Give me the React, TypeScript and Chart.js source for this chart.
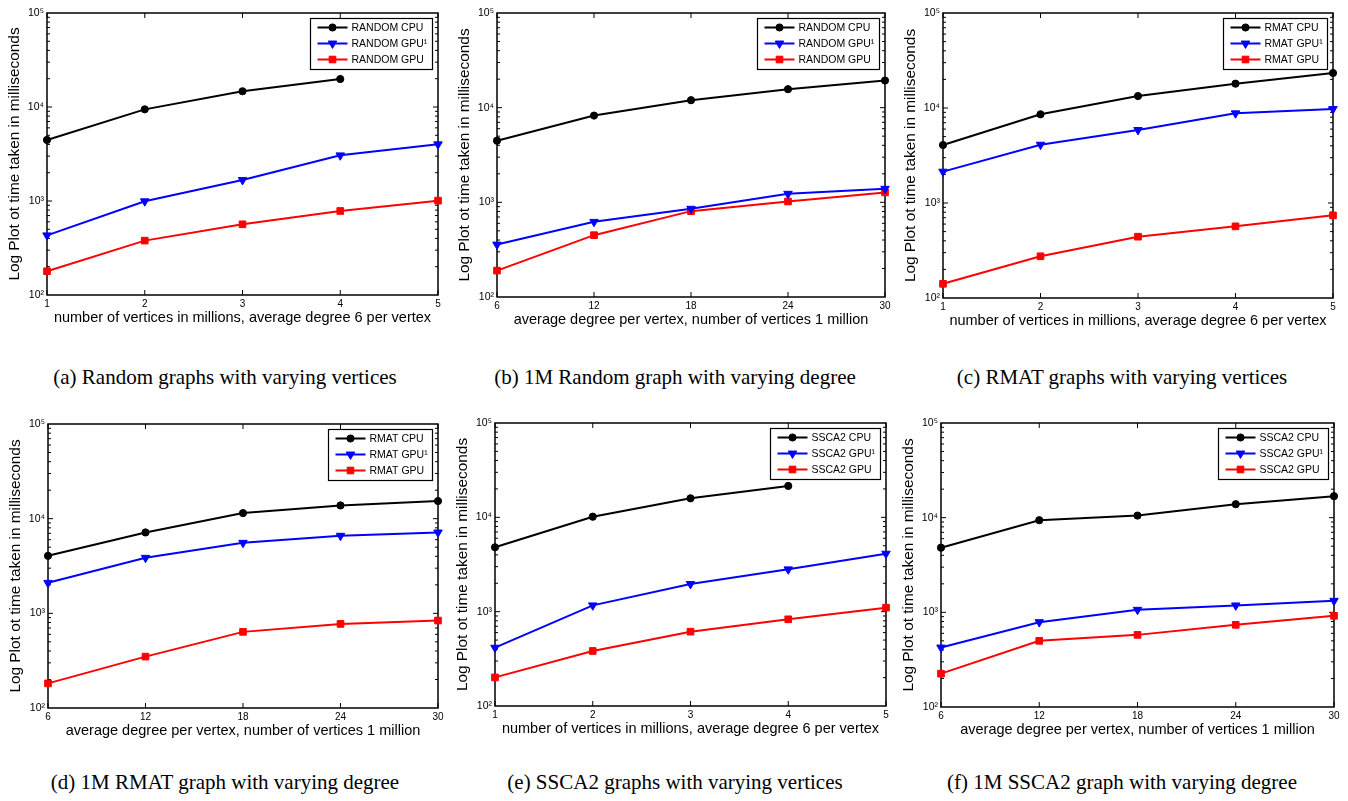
import React, { useEffect, useRef } from "react";
import { Chart, registerables } from "chart.js";
Chart.register(...registerables);

// ---------- data ----------
const verticesMillions = [1, 2, 3, 4, 5];
const degreesPerVertex = [6, 12, 18, 24, 30];
const yTickValues = [100, 1000, 10000, 100000];

// (a) Random graphs with varying vertices
const randomVertCpu = [4460, 9440, 14700, 19860];
const randomVertGpu1 = [431, 993, 1671, 3060, 4010];
const randomVertGpu = [179, 379, 565, 783, 1009];
// (b) 1M Random graph with varying degree
const randomDegCpu = [4480, 8250, 11990, 15670, 19360];
const randomDegGpu1 = [358, 622, 855, 1231, 1391];
const randomDegGpu = [190, 450, 807, 1021, 1273];
// (c) RMAT graphs with varying vertices
const rmatVertCpu = [4080, 8580, 13370, 18030, 23350];
const rmatVertGpu1 = [2138, 4110, 5870, 8790, 9750];
const rmatVertGpu = [141, 275, 442, 568, 741];
// (d) 1M RMAT graph with varying degree
const rmatDegCpu = [4050, 7150, 11450, 13800, 15340];
const rmatDegGpu1 = [2100, 3860, 5560, 6600, 7150];
const rmatDegGpu = [182, 349, 637, 773, 839];
// (e) SSCA2 graphs with varying vertices
const sscaVertCpu = [4810, 10160, 15900, 21500];
const sscaVertGpu1 = [415, 1166, 1963, 2810, 4120];
const sscaVertGpu = [201, 383, 614, 830, 1103];
// (f) 1M SSCA2 graph with varying degree
const sscaDegCpu = [4820, 9400, 10520, 13870, 16870];
const sscaDegGpu1 = [425, 787, 1064, 1183, 1325];
const sscaDegGpu = [225, 500, 578, 738, 919];

const yTitle = "Log Plot ot time taken in milliseconds";
const xTitleVertices = "number of vertices in millions, average degree 6 per vertex";
const xTitleDegree = "average degree per vertex, number of vertices 1 million";

// ---------- styling ----------
const SANS = '"Liberation Sans", Arial, Helvetica, sans-serif';
const SERIF = '"Liberation Serif", "Times New Roman", serif';
const SUP: Record<string, string> = { "0": "⁰", "1": "¹", "2": "²", "3": "³", "4": "⁴", "5": "⁵", "6": "⁶", "7": "⁷", "8": "⁸", "9": "⁹" };
const powLabel = (v: number) =>
  "10" + String(Math.round(Math.log10(v))).split("").map((c) => SUP[c]).join("");

const SERIES_STYLE = [
  { color: "#000000", pointStyle: "circle", radius: 3.6, rotation: 0 },
  { color: "#0000ff", pointStyle: "triangle", radius: 4.9, rotation: 180 },
  { color: "#ff0000", pointStyle: "rect", radius: 4.7, rotation: 0 },
];

function drawMarker(ctx: CanvasRenderingContext2D, style: string, x: number, y: number, r: number, rotation: number) {
  ctx.beginPath();
  if (style === "circle") {
    ctx.arc(x, y, r, 0, Math.PI * 2);
  } else if (style === "triangle") {
    let rad = (rotation * Math.PI) / 180;
    ctx.moveTo(x + Math.sin(rad) * r, y - Math.cos(rad) * r);
    rad += (2 * Math.PI) / 3;
    ctx.lineTo(x + Math.sin(rad) * r, y - Math.cos(rad) * r);
    rad += (2 * Math.PI) / 3;
    ctx.lineTo(x + Math.sin(rad) * r, y - Math.cos(rad) * r);
    ctx.closePath();
  } else {
    const s = Math.SQRT1_2 * r;
    ctx.rect(x - s, y - s, 2 * s, 2 * s);
  }
  ctx.fill();
  ctx.stroke();
}

const framePlugin = {
  id: "matlabFrame",
  beforeDatasetsDraw(chart: any) {
    const { ctx, chartArea: a, scales } = chart;
    const xs = scales.x;
    const ys = scales.y;
    ctx.save();
    ctx.strokeStyle = "#000";
    ctx.lineWidth = 1;
    const seg = (x1: number, y1: number, x2: number, y2: number) => {
      ctx.beginPath();
      ctx.moveTo(x1, y1);
      ctx.lineTo(x2, y2);
      ctx.stroke();
    };
    for (const t of xs.ticks) {
      const px = xs.getPixelForValue(t.value);
      seg(px, a.bottom, px, a.bottom - 5);
      seg(px, a.top, px, a.top + 5);
    }
    const e0 = Math.round(Math.log10(ys.min));
    const e1 = Math.round(Math.log10(ys.max));
    for (let e = e0; e < e1; e++) {
      for (let m = 1; m < 10; m++) {
        const v = m * Math.pow(10, e);
        if (v <= ys.min) continue;
        const py = ys.getPixelForValue(v);
        const len = m === 1 ? 5 : 3;
        seg(a.left, py, a.left + len, py);
        seg(a.right, py, a.right - len, py);
      }
    }
    ctx.lineWidth = 1.5;
    ctx.strokeRect(a.left, a.top, a.right - a.left, a.bottom - a.top);
    ctx.restore();
  },
};

const legendPlugin = {
  id: "boxLegend",
  afterDraw(chart: any) {
    const { ctx, chartArea: a } = chart;
    const ds = chart.data.datasets;
    ctx.save();
    ctx.font = `10.5px ${SANS}`;
    const maxW = Math.max(...ds.map((d: any) => ctx.measureText(d.label).width));
    const w = Math.round(41 + maxW + 5);
    const h = 51;
    const bx = Math.round(a.right - 6 - w) + 0.5;
    const by = Math.round(a.top + 5) + 0.5;
    ctx.fillStyle = "#fff";
    ctx.fillRect(bx, by, w, h);
    ctx.strokeStyle = "#000";
    ctx.lineWidth = 1.2;
    ctx.strokeRect(bx, by, w, h);
    ds.forEach((d: any, i: number) => {
      const st = SERIES_STYLE[i];
      const ry = by + 9 + 16 * i;
      ctx.strokeStyle = st.color;
      ctx.fillStyle = st.color;
      ctx.lineWidth = 2;
      ctx.beginPath();
      ctx.moveTo(bx + 7, ry);
      ctx.lineTo(bx + 37, ry);
      ctx.stroke();
      ctx.lineWidth = 1;
      drawMarker(ctx, st.pointStyle, bx + 22, ry, st.radius, st.rotation);
      ctx.fillStyle = "#000";
      ctx.textAlign = "left";
      ctx.textBaseline = "middle";
      ctx.fillText(d.label, bx + 41, ry + 0.5);
    });
    ctx.restore();
  },
};

type PanelCfg = {
  box: { x: number; y: number; w: number; h: number };
  area: { L: number; T: number; R: number; B: number };
  xs: number[];
  series: number[][];
  labels: string[];
  xTitle: string;
};

const COLS = [0, 450, 900];
const ROWS = [0, 410];
const BOX_W = [448, 448, 448];
const BOX_H = 345;

const panels: PanelCfg[] = [
  {
    box: { x: COLS[0], y: ROWS[0], w: BOX_W[0], h: BOX_H },
    area: { L: 47, T: 13, R: 438, B: 295 },
    xs: verticesMillions,
    series: [randomVertCpu, randomVertGpu1, randomVertGpu],
    labels: ["RANDOM CPU", "RANDOM GPU¹", "RANDOM GPU"],
    xTitle: xTitleVertices,
  },
  {
    box: { x: COLS[1], y: ROWS[0], w: BOX_W[1], h: BOX_H },
    area: { L: 497, T: 13, R: 885, B: 297 },
    xs: degreesPerVertex,
    series: [randomDegCpu, randomDegGpu1, randomDegGpu],
    labels: ["RANDOM CPU", "RANDOM GPU¹", "RANDOM GPU"],
    xTitle: xTitleDegree,
  },
  {
    box: { x: COLS[2], y: ROWS[0], w: BOX_W[2], h: BOX_H },
    area: { L: 943, T: 13, R: 1333, B: 298 },
    xs: verticesMillions,
    series: [rmatVertCpu, rmatVertGpu1, rmatVertGpu],
    labels: ["RMAT CPU", "RMAT GPU¹", "RMAT GPU"],
    xTitle: xTitleVertices,
  },
  {
    box: { x: COLS[0], y: ROWS[1], w: BOX_W[0], h: BOX_H },
    area: { L: 48, T: 424, R: 438, B: 708 },
    xs: degreesPerVertex,
    series: [rmatDegCpu, rmatDegGpu1, rmatDegGpu],
    labels: ["RMAT CPU", "RMAT GPU¹", "RMAT GPU"],
    xTitle: xTitleDegree,
  },
  {
    box: { x: COLS[1], y: ROWS[1], w: BOX_W[1], h: BOX_H },
    area: { L: 495, T: 423, R: 886, B: 706 },
    xs: verticesMillions,
    series: [sscaVertCpu, sscaVertGpu1, sscaVertGpu],
    labels: ["SSCA2 CPU", "SSCA2 GPU¹", "SSCA2 GPU"],
    xTitle: xTitleVertices,
  },
  {
    box: { x: COLS[2], y: ROWS[1], w: BOX_W[2], h: BOX_H },
    area: { L: 941, T: 423, R: 1334, B: 707 },
    xs: degreesPerVertex,
    series: [sscaDegCpu, sscaDegGpu1, sscaDegGpu],
    labels: ["SSCA2 CPU", "SSCA2 GPU¹", "SSCA2 GPU"],
    xTitle: xTitleDegree,
  },
];

const captions = [
  "(a) Random graphs with varying vertices",
  "(b) 1M Random graph with varying degree",
  "(c) RMAT graphs with varying vertices",
  "(d) 1M RMAT graph with varying degree",
  "(e) SSCA2 graphs with varying vertices",
  "(f) 1M SSCA2 graph with varying degree",
];
const CAPTION_CENTER_Y = [377, 782];
const CAPTION_CENTER_X = [225, 675, 1122];

function Panel({ cfg }: { cfg: PanelCfg }) {
  const ref = useRef<HTMLCanvasElement>(null);
  useEffect(() => {
    const { box, area, xs } = cfg;
    const yTitleSize = 15.4;
    const xTitleSize = 14.5;
    const yTitleOffset = area.L - 32 - box.x;
    const xTitleOffset = box.y + box.h - (area.B + 23);
    const chart = new Chart(ref.current as HTMLCanvasElement, {
      type: "line",
      data: {
        datasets: cfg.series.map((ys, i) => {
          const st = SERIES_STYLE[i];
          return {
            label: cfg.labels[i],
            data: ys.map((v, j) => ({ x: xs[j], y: v })),
            borderColor: st.color,
            backgroundColor: st.color,
            borderWidth: 2,
            pointStyle: st.pointStyle as any,
            pointRadius: st.radius,
            pointRotation: st.rotation,
            pointBorderWidth: 1,
            pointBackgroundColor: st.color,
            pointBorderColor: st.color,
            tension: 0,
            clip: false as any,
          };
        }),
      },
      options: {
        animation: false,
        responsive: false,
        events: [],
        layout: {
          padding: { left: 0, top: area.T - box.y, right: box.x + box.w - area.R, bottom: 0 },
        },
        plugins: { legend: { display: false }, tooltip: { enabled: false } },
        scales: {
          x: {
            type: "linear",
            min: xs[0],
            max: xs[xs.length - 1],
            afterBuildTicks: (s: any) => {
              s.ticks = xs.map((v) => ({ value: v }));
            },
            afterFit: (s: any) => {
              s.height = box.y + box.h - area.B;
            },
            grid: { display: false, drawTicks: false },
            border: { display: false },
            ticks: {
              padding: 3,
              autoSkip: false,
              maxRotation: 0,
              color: "#000",
              font: { family: SANS, size: 10, lineHeight: 1.2 },
            },
            title: {
              display: true,
              text: cfg.xTitle,
              color: "#000",
              font: { family: SANS, size: xTitleSize, lineHeight: 1.2 },
              padding: { top: 0, bottom: xTitleOffset - (xTitleSize * 1.2) / 2 },
            },
          },
          y: {
            type: "logarithmic",
            min: yTickValues[0],
            max: yTickValues[yTickValues.length - 1],
            afterBuildTicks: (s: any) => {
              s.ticks = yTickValues.map((v) => ({ value: v, major: true }));
            },
            afterFit: (s: any) => {
              s.width = area.L - box.x;
            },
            grid: { display: false, drawTicks: false },
            border: { display: false },
            ticks: {
              padding: 3,
              autoSkip: false,
              color: "#000",
              font: { family: SANS, size: 10.5, lineHeight: 1.2 },
              callback: (v: any) => powLabel(Number(v)),
            },
            title: {
              display: true,
              text: yTitle,
              color: "#000",
              font: { family: SANS, size: yTitleSize, lineHeight: 1.2 },
              padding: { top: yTitleOffset - (yTitleSize * 1.2) / 2, bottom: 0 },
            },
          },
        },
      },
      plugins: [framePlugin, legendPlugin],
    } as any);
    return () => chart.destroy();
  }, [cfg]);
  return (
    <canvas
      ref={ref}
      width={cfg.box.w}
      height={cfg.box.h}
      style={{ position: "absolute", left: cfg.box.x, top: cfg.box.y, width: cfg.box.w, height: cfg.box.h }}
    />
  );
}

export default function App() {
  return (
    <div style={{ position: "absolute", left: 0, top: 0, width: 1348, height: 801, background: "#fff", overflow: "hidden" }}>
      {panels.map((p, i) => (
        <Panel key={i} cfg={p} />
      ))}
      {captions.map((c, i) => {
        const col = i % 3;
        const row = Math.floor(i / 3);
        return (
          <div
            key={"c" + i}
            style={{
              position: "absolute",
              left: CAPTION_CENTER_X[col] - 225,
              width: 450,
              top: CAPTION_CENTER_Y[row] - 12,
              height: 24,
              lineHeight: "24px",
              textAlign: "center",
              fontFamily: SERIF,
              fontSize: 21,
              color: "#000",
              whiteSpace: "nowrap",
            }}
          >
            {c}
          </div>
        );
      })}
    </div>
  );
}
